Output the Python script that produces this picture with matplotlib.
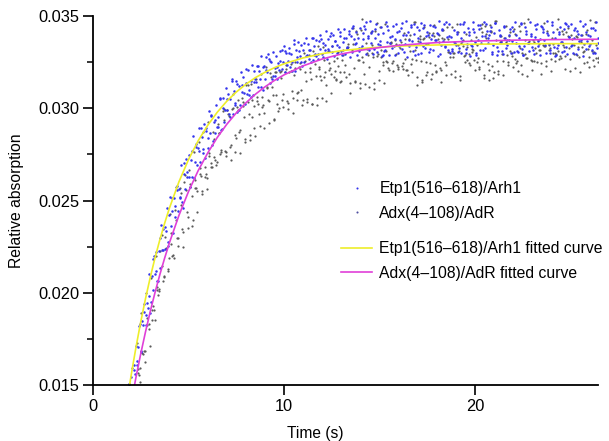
import numpy as np
import matplotlib
matplotlib.use("Agg")
import matplotlib.pyplot as plt
from matplotlib.lines import Line2D
from matplotlib.ticker import MultipleLocator, FormatStrFormatter

plt.rcParams['font.family'] = ['Liberation Sans', 'DejaVu Sans']

# ---------------- data (absorption values in units of 1e-3) ----------------
# Recorded runs; each run sampled every 0.25 s from 1.75 s, with a small
# start offset between runs.
t_start = 1.75
t_step = 0.25
etp_offsets = [0.0, 0.0625, 0.125, 0.1875, 0.03, 0.156]
adx_offsets = [0.031, 0.094, 0.156, 0.219, 0.09, 0.20]

etp_run_a = [13.67, 15.46, 17.14, 16.81, 18.24, 18.89, 21.02, 21.36, 22.36, 24.20,
             25.16, 25.61, 26.44, 27.44, 28.48, 27.82, 27.80, 27.85, 28.03, 29.00,
             28.87, 29.93, 31.45, 31.47, 31.98, 31.35, 31.46, 31.56, 31.56, 31.59,
             31.36, 32.19, 32.07, 33.37, 33.29, 33.71, 33.59, 33.18, 33.47, 32.61,
             32.67, 32.92, 32.65, 33.37, 33.01, 33.11, 33.82, 33.93, 34.15, 34.37,
             34.32, 34.71, 33.81, 33.42, 33.09, 32.90, 33.39, 34.17, 33.97, 34.13,
             33.12, 32.93, 33.36, 34.14, 33.99, 34.10, 34.29, 34.68, 33.84, 33.45,
             33.02, 33.21, 32.82, 33.60, 33.17, 33.25, 33.99, 34.09, 34.24, 34.44,
             33.95, 34.18, 33.05, 32.87, 33.56, 33.31, 34.54, 34.38, 34.73, 34.50,
             32.86, 33.60, 33.31, 34.58, 34.34, 34.73, 34.54, 33.91, 34.22]
etp_run_b = [13.10, 14.37, 16.28, 18.47, 19.45, 20.90, 22.19, 23.65, 23.33, 23.62,
             24.70, 25.14, 25.61, 25.74, 27.08, 28.93, 29.13, 29.84, 29.28, 29.53,
             30.03, 30.79, 29.70, 29.77, 30.86, 30.78, 32.33, 32.29, 32.84, 32.76,
             32.50, 32.81, 33.09, 31.95, 32.25, 32.02, 32.83, 32.53, 32.68, 33.38,
             33.62, 33.56, 33.74, 33.95, 34.32, 33.61, 33.30, 33.05, 32.89, 33.36,
             32.96, 33.54, 34.59, 34.40, 34.65, 33.87, 33.78, 33.68, 33.48, 33.35,
             34.05, 34.22, 34.49, 33.03, 33.16, 32.83, 33.65, 33.18, 33.20, 34.04,
             33.66, 33.50, 33.37, 32.98, 33.56, 34.57, 34.38, 34.63, 33.89, 33.80,
             34.30, 34.69, 33.83, 33.40, 33.11, 32.92, 33.37, 34.15, 33.99, 34.11,
             33.44, 33.07, 32.94, 33.41, 34.19, 33.95, 34.11, 34.34, 34.69]
etp_run_c = [15.06, 15.80, 17.08, 18.24, 19.18, 20.16, 20.64, 22.34, 24.58, 25.12,
             25.78, 26.95, 27.25, 27.19, 28.08, 27.07, 27.30, 28.64, 28.68, 30.52,
             29.25, 29.71, 30.91, 31.23, 31.67, 32.08, 30.74, 31.16, 30.97, 31.94,
             31.59, 31.57, 32.15, 33.02, 32.94, 33.17, 33.43, 33.83, 33.16, 32.92,
             33.23, 33.16, 33.10, 32.83, 33.34, 34.27, 34.17, 34.46, 33.79, 33.73,
             33.93, 34.20, 33.03, 32.84, 33.58, 33.29, 34.56, 34.36, 34.75, 34.52,
             32.88, 33.61, 33.26, 34.53, 34.39, 34.72, 34.55, 33.90, 34.23, 33.06,
             34.58, 34.34, 34.70, 34.50, 33.91, 34.18, 33.05, 32.86, 33.60, 33.27,
             32.98, 33.52, 34.57, 34.42, 34.67, 33.85, 33.76, 33.70, 33.46, 33.33,
             34.05, 34.28, 34.44, 33.02, 33.21, 32.84, 33.64, 33.17, 33.25]
etp_run_d = [14.43, 15.57, 18.30, 19.37, 21.00, 21.98, 22.25, 23.46, 22.74, 23.26,
             24.45, 24.62, 26.28, 26.30, 26.95, 28.44, 28.95, 29.58, 30.17, 28.81,
             31.08, 30.49, 30.30, 30.19, 30.24, 30.99, 32.02, 32.00, 32.31, 32.65,
             33.04, 32.45, 32.50, 32.57, 32.51, 32.49, 32.27, 32.86, 33.79, 33.69,
             33.78, 34.20, 34.06, 33.63, 33.89, 32.95, 32.78, 33.49, 33.25, 34.47,
             33.15, 33.23, 34.01, 34.07, 34.26, 34.46, 33.00, 33.19, 32.80, 33.62,
             34.43, 34.62, 33.90, 33.75, 33.71, 33.45, 33.32, 32.99, 33.51, 34.56,
             34.15, 33.95, 34.11, 34.30, 34.69, 33.79, 33.44, 33.11, 32.92, 33.41,
             33.64, 33.13, 33.21, 34.03, 34.05, 34.28, 34.48, 33.02, 33.17, 32.82,
             34.42, 34.63, 33.85, 33.80, 33.66, 33.50, 33.37, 32.98, 33.56]
etp_run_e = [13.52, 14.36, 16.10, 16.84, 18.78, 19.51, 21.16, 22.99, 23.59, 25.20,
             24.09, 25.21, 27.03, 26.28, 26.23, 27.70, 27.59, 28.37, 28.22, 28.97,
             30.55, 30.50, 31.59, 31.34, 31.27, 32.11, 30.59, 31.40, 31.13, 32.09,
             32.57, 31.76, 32.58, 33.09, 32.99, 33.46, 33.11, 33.52, 33.17, 33.83,
             32.94, 32.78, 33.21, 33.04, 33.45, 32.87, 33.29, 34.36, 33.54, 33.24,
             34.69, 34.09, 34.30, 33.64, 33.17, 33.52, 32.90, 33.37, 33.05, 33.72,
             34.57, 33.83, 34.34, 33.95, 34.46, 34.03, 34.24, 33.87, 33.11, 34.15,
             33.79, 32.98, 33.44, 32.86, 34.50, 33.91, 34.18, 34.61, 33.99, 34.42,
             33.72, 33.05, 33.37, 32.90, 33.52, 33.17, 33.64, 34.30, 34.09, 34.69,
             33.27, 33.60, 34.54, 33.40, 32.94, 33.68, 33.21, 33.48, 33.01]
etp_run_f = [15.03, 16.11, 18.18, 18.98, 19.84, 21.81, 20.63, 22.32, 22.55, 24.41,
             25.59, 24.92, 26.52, 27.69, 27.92, 28.95, 28.74, 29.62, 29.38, 30.58,
             29.92, 29.54, 30.15, 29.89, 30.84, 30.70, 31.41, 32.27, 32.22, 32.95,
             31.75, 32.21, 33.16, 32.32, 32.03, 32.78, 32.49, 32.81, 32.50, 32.84,
             33.96, 33.45, 33.91, 33.64, 34.11, 33.79, 34.03, 33.75, 33.09, 34.08,
             33.83, 32.95, 33.48, 32.90, 34.46, 33.94, 34.14, 34.64, 33.96, 34.38,
             33.33, 33.01, 33.48, 33.21, 33.68, 32.94, 33.40, 34.54, 33.60, 33.27,
             34.65, 34.12, 34.27, 33.68, 33.14, 33.56, 32.93, 33.34, 33.08, 33.69,
             34.42, 33.99, 34.61, 34.18, 33.91, 34.50, 32.86, 33.44, 32.98, 33.79,
             34.15, 33.11, 33.87, 34.24, 34.03, 34.46, 33.95, 34.34, 33.83]

adx_run_p = [13.54, 15.94, 17.30, 18.90, 19.99, 20.78, 22.01, 22.24, 23.00, 24.26,
             24.51, 25.70, 26.01, 26.65, 27.64, 28.15, 28.72, 29.23, 28.70, 29.15,
             29.85, 29.89, 29.94, 30.06, 30.57, 31.25, 31.33, 31.58, 31.85, 32.23,
             31.89, 31.95, 31.99, 31.97, 31.96, 31.80, 32.24, 32.97, 32.91, 33.11,
             33.35, 33.30, 33.09, 33.37, 32.71, 32.63, 33.26, 33.15, 34.21, 34.22,
             33.51, 34.13, 34.21, 34.40, 34.56, 33.54, 33.70, 33.45, 34.07, 33.75,
             34.69, 33.64, 33.78, 33.50, 34.10, 33.75, 33.82, 34.38, 34.41, 34.55,
             33.56, 34.04, 33.70, 33.88, 34.33, 34.47, 34.50, 34.74, 33.60, 33.83,
             33.90, 34.30, 34.48, 34.62, 34.85, 33.70, 33.72, 33.45, 34.16, 33.80,
             34.27, 34.20, 34.13, 33.99, 33.89, 33.61, 34.03, 34.80, 34.66]
adx_run_q = [13.49, 14.18, 15.63, 16.66, 18.25, 19.07, 20.13, 21.47, 22.36, 23.26,
             23.96, 24.74, 25.59, 25.75, 26.11, 26.46, 26.84, 27.55, 28.36, 28.66,
             29.35, 29.59, 30.02, 29.91, 30.14, 30.34, 30.47, 30.61, 30.62, 31.10,
             31.17, 31.98, 32.04, 32.37, 32.39, 32.20, 32.47, 31.96, 31.95, 32.42,
             32.11, 32.62, 32.44, 32.56, 33.03, 33.14, 33.31, 33.48, 32.62, 32.78,
             33.23, 33.02, 32.84, 32.76, 33.08, 33.59, 33.49, 33.61, 33.74, 33.99,
             33.14, 33.93, 33.82, 34.07, 33.93, 33.59, 33.78, 33.07, 32.97, 33.43,
             33.38, 33.30, 33.07, 33.45, 34.11, 34.00, 34.15, 33.68, 33.62, 33.57,
             34.14, 34.02, 34.17, 33.70, 33.64, 33.59, 33.47, 33.38, 33.14, 33.50,
             33.11, 33.41, 33.89, 33.77, 33.86, 33.98, 34.22, 33.68, 33.44]
adx_run_r = [12.55, 14.32, 15.55, 16.83, 18.06, 19.30, 19.87, 20.61, 21.29, 21.99,
             22.95, 23.44, 24.35, 25.23, 25.70, 26.34, 26.45, 26.84, 27.20, 27.50,
             27.66, 27.90, 28.55, 28.70, 29.55, 29.71, 30.12, 30.22, 30.16, 30.47,
             30.74, 30.22, 30.47, 30.42, 30.94, 30.83, 30.99, 31.45, 31.57, 31.75,
             31.77, 31.95, 32.20, 32.02, 31.99, 31.95, 31.88, 32.16, 32.59, 32.52,
             32.88, 32.79, 32.92, 32.53, 32.48, 32.44, 32.34, 32.28, 32.09, 32.40,
             32.59, 32.55, 32.51, 32.43, 32.37, 32.18, 32.49, 33.06, 32.97, 33.10,
             32.84, 32.96, 33.17, 32.73, 32.54, 32.38, 32.29, 32.55, 32.96, 32.88,
             33.02, 32.43, 32.34, 32.73, 32.59, 33.25, 33.16, 33.38, 33.27, 32.98,
             32.66, 33.33, 33.24, 33.45, 33.34, 33.06, 33.22, 32.63, 32.53]
adx_run_s = [12.66, 13.97, 15.14, 16.23, 17.11, 18.50, 20.12, 20.90, 21.87, 21.87,
             22.99, 23.29, 24.10, 23.95, 24.38, 25.33, 25.62, 26.83, 27.11, 27.73,
             27.63, 27.99, 28.41, 28.81, 28.17, 28.53, 28.52, 29.04, 28.94, 29.18,
             29.38, 30.02, 30.06, 30.28, 30.54, 30.89, 30.47, 30.33, 30.21, 30.18,
             30.54, 30.39, 30.82, 31.51, 31.49, 31.70, 31.36, 31.40, 31.39, 31.33,
             31.14, 31.06, 31.51, 31.37, 32.10, 32.00, 32.24, 32.11, 31.79, 31.97,
             31.24, 31.53, 31.98, 31.88, 31.97, 32.10, 32.35, 31.88, 31.69, 31.52,
             32.48, 32.36, 32.06, 32.25, 31.62, 31.53, 31.97, 31.83, 32.57, 32.48,
             32.21, 32.01, 31.84, 31.76, 32.06, 32.52, 32.44, 32.54, 32.68, 32.92,
             32.71, 32.84, 32.04, 32.17, 31.98, 32.47, 32.22, 32.30, 32.76]
adx_run_t = [12.80, 13.80, 15.88, 16.71, 18.65, 18.50, 20.29, 23.13, 22.40, 22.64,
             25.74, 25.42, 26.38, 25.89, 25.70, 26.75, 26.27, 27.40, 27.35, 28.67,
             29.96, 29.68, 30.77, 30.46, 30.34, 31.27, 29.50, 30.40, 30.06, 31.15,
             31.68, 30.71, 31.65, 32.14, 32.02, 32.53, 32.13, 32.58, 32.18, 32.91,
             32.22, 31.72, 32.05, 31.72, 32.29, 32.88, 33.48, 34.33, 34.05, 34.83,
             33.00, 33.43, 34.63, 33.18, 32.58, 33.53, 32.93, 33.28, 32.68, 33.08,
             34.68, 33.73, 34.38, 33.88, 34.53, 33.98, 34.25, 33.78, 32.80, 34.13,
             33.68, 32.63, 33.23, 32.48, 34.58, 33.83, 34.18, 34.73, 33.93, 34.48,
             33.08, 32.68, 33.28, 32.93, 33.53, 32.58, 33.18, 34.63, 33.43, 33.00,
             34.83, 34.05, 34.33, 33.48, 32.88, 33.33, 32.53, 33.13, 32.73]
adx_run_u = [13.38, 14.27, 15.92, 16.85, 18.32, 19.08, 20.19, 20.85, 21.18, 22.05,
             22.51, 22.49, 23.51, 23.62, 25.51, 25.54, 26.23, 27.02, 26.90, 27.65,
             27.41, 27.20, 27.65, 27.56, 28.34, 28.30, 28.92, 29.68, 29.72, 30.39,
             29.40, 29.84, 30.76, 29.97, 29.72, 30.44, 30.18, 30.50, 30.21, 30.55,
             31.54, 31.28, 31.86, 31.58, 31.41, 32.35, 30.85, 31.48, 31.11, 31.88,
             32.22, 31.35, 32.03, 32.36, 32.18, 32.55, 32.13, 32.46, 32.06, 32.68,
             31.67, 31.43, 31.82, 31.61, 32.00, 31.41, 31.82, 32.76, 32.02, 31.77,
             32.91, 32.46, 32.64, 32.15, 31.81, 32.10, 31.65, 32.02, 31.82, 32.32,
             32.85, 32.55, 33.01, 32.73, 32.56, 32.97, 31.87, 32.29, 32.00, 32.56,
             32.81, 32.15, 32.67, 32.93, 32.80, 33.10, 32.79, 33.05, 32.75]

# fitted curves (time s, absorption 1e-3)
etp_fit_t = [1.75, 2.0, 2.25, 2.5, 2.75, 3.0, 3.25, 3.5, 3.75, 4.0, 4.5, 5.0, 5.5, 6.0,
             6.5, 7.0, 7.5, 8.0, 8.5, 9.0, 9.5, 10, 11, 12, 13, 14, 15, 16, 18, 20,
             22, 24, 26.5]
etp_fit_y = [13.91, 15.55, 17.05, 18.43, 19.69, 20.85, 21.91, 22.88, 23.77, 24.59,
             26.02, 27.22, 28.23, 29.07, 29.78, 30.38, 30.88, 31.30, 31.66, 31.95,
             32.20, 32.41, 32.73, 32.96, 33.12, 33.23, 33.31, 33.37, 33.43, 33.47,
             33.49, 33.50, 33.50]
adx_fit_t = [2.0, 2.25, 2.5, 2.75, 3.0, 3.25, 3.5, 3.75, 4.0, 4.5, 5.0, 5.5, 6.0, 6.5,
             7.0, 7.5, 8.0, 8.5, 9.0, 9.5, 10, 11, 12, 13, 14, 15, 16, 18, 20, 22, 24,
             26.5]
adx_fit_y = [14.04, 15.42, 16.70, 17.89, 19.00, 20.03, 20.99, 21.88, 22.71, 24.20,
             25.49, 26.61, 27.57, 28.41, 29.13, 29.75, 30.29, 30.76, 31.16, 31.51,
             31.81, 32.30, 32.67, 32.94, 33.14, 33.29, 33.41, 33.56, 33.64, 33.69,
             33.72, 33.74]

labels = ["Etp1(516\u2013618)/Arh1", "Adx(4\u2013108)/AdR",
          "Etp1(516\u2013618)/Arh1 fitted curve", "Adx(4\u2013108)/AdR fitted curve"]

# ---------------- figure ----------------
W, H = 609, 441
fig = plt.figure(figsize=(W / 100, H / 100), dpi=100)
ax = fig.add_axes([93 / W, 1 - 385 / H, (598 - 93) / W, (385 - 16) / H])

blue = '#3434ec'
grey = '#5a5a5a'

def run_times(n, off):
    return t_start + off + t_step * np.arange(n)

adx_runs = [adx_run_p, adx_run_q, adx_run_r, adx_run_s, adx_run_t, adx_run_u]
etp_runs = [etp_run_a, etp_run_b, etp_run_c, etp_run_d, etp_run_e, etp_run_f]

for run, off in zip(adx_runs, adx_offsets):
    ax.plot(run_times(len(run), off), np.array(run) * 1e-3, linestyle='none',
            marker='o', ms=1.6, mew=0, color=grey)
for run, off in zip(etp_runs, etp_offsets):
    ax.plot(run_times(len(run), off), np.array(run) * 1e-3, linestyle='none',
            marker='o', ms=1.8, mew=0, color=blue)

yellow = '#eeee2a'
magenta = '#e040d8'
ax.plot(etp_fit_t, np.array(etp_fit_y) * 1e-3, color=yellow, lw=1.2)
ax.plot(adx_fit_t, np.array(adx_fit_y) * 1e-3, color=magenta, lw=1.2)

ax.set_xlim(0, 26.43)
ax.set_ylim(0.015, 0.035)
ax.xaxis.set_major_locator(MultipleLocator(10))
ax.yaxis.set_major_locator(MultipleLocator(0.005))
ax.yaxis.set_minor_locator(MultipleLocator(0.0025))
ax.yaxis.set_major_formatter(FormatStrFormatter('%.3f'))

for s in ['top', 'right']:
    ax.spines[s].set_visible(False)
for s in ['left', 'bottom']:
    ax.spines[s].set_linewidth(1.3)
ax.tick_params(which='major', direction='out', length=7, width=1.2, labelsize=11.8, pad=3)
ax.tick_params(which='minor', direction='out', length=4, width=1.1)

ax.set_xlabel("Time (s)", fontsize=11.2)
ax.set_ylabel("Relative absorption", fontsize=11.3)
ax.xaxis.set_label_coords((315 - 93) / (598 - 93), -0.112)
ax.yaxis.set_label_coords(-0.137, 0.5)

h1 = Line2D([], [], linestyle='none', marker='o', ms=1.5, mew=0, color=blue)
h2 = Line2D([], [], linestyle='none', marker='o', ms=1.5, mew=0, color='#5050a0')
h3 = Line2D([], [], color=yellow, lw=1.2)
h4 = Line2D([], [], color=magenta, lw=1.2)

leg1 = fig.legend([h1, h2], labels[:2], loc='upper left',
                  bbox_to_anchor=(341 / W, 1 - 181 / H), frameon=False,
                  fontsize=11.3, handlelength=2.0, handletextpad=0.45,
                  labelspacing=0.62, borderpad=0, borderaxespad=0)
leg2 = fig.legend([h3, h4], labels[2:], loc='upper left',
                  bbox_to_anchor=(341 / W, 1 - 241 / H), frameon=False,
                  fontsize=11.3, handlelength=2.0, handletextpad=0.45,
                  labelspacing=0.62, borderpad=0, borderaxespad=0)

fig.savefig("out.png", dpi=100)
